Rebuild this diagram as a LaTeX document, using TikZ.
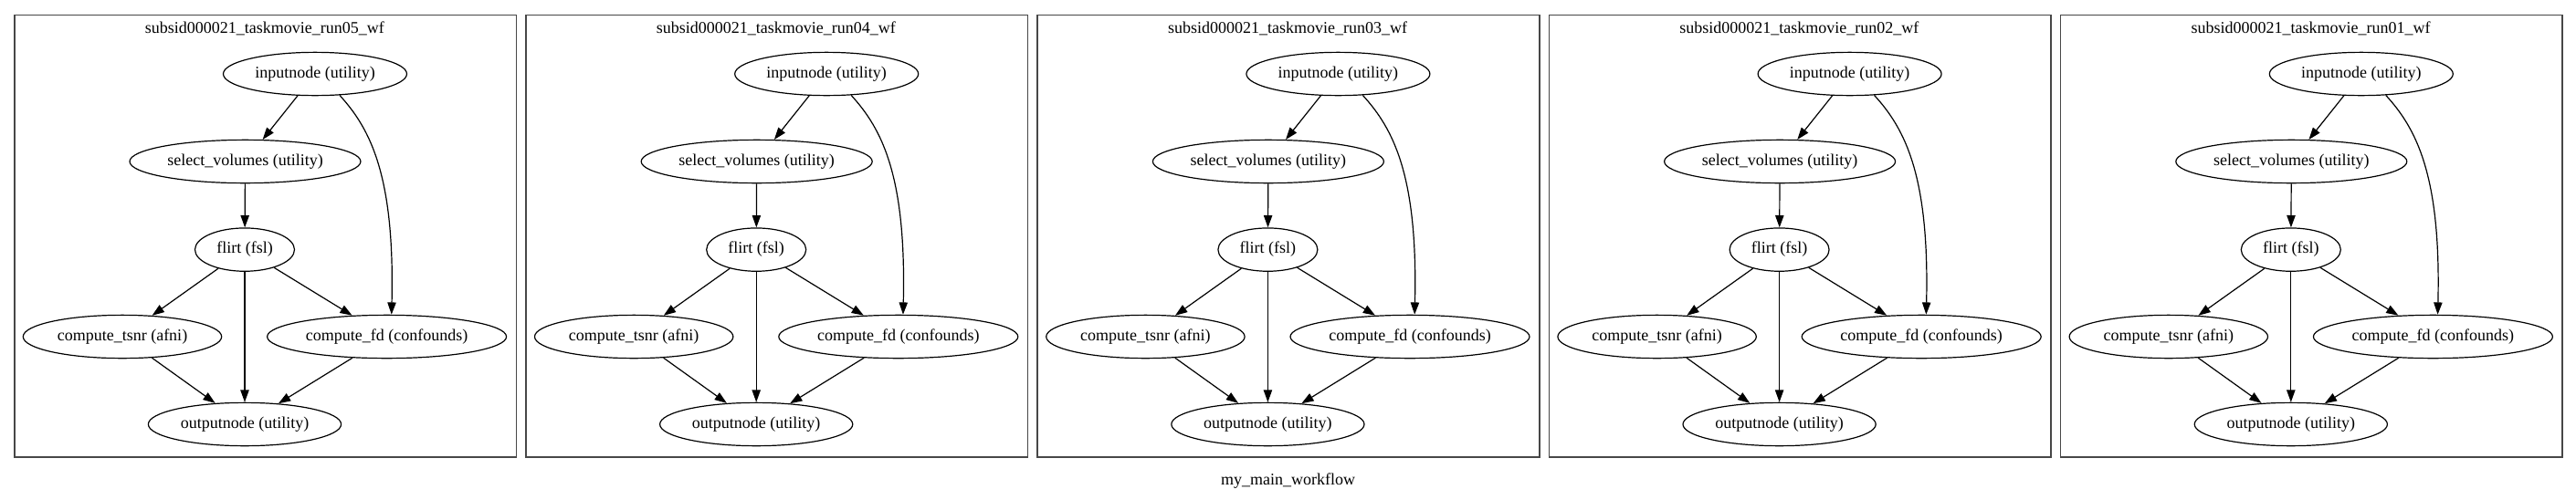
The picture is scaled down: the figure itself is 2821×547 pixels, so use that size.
\documentclass[tikz,border=0pt]{standalone}
\usepackage{fontspec}
\setmainfont{Liberation Serif}
\usetikzlibrary{shapes.geometric,arrows.meta}
\tikzset{
  gnode/.style={draw, ellipse, line width=0.9pt, inner sep=0pt,
    minimum width=#1*1.5pt, minimum height=35.5pt,
    font=\fontsize{13.5}{16}\selectfont, text height=0.8em, text depth=0.2em},
  edge/.style={line width=0.9pt, -{Triangle[length=10pt,width=7pt]}},
  cluster/.style={draw=black!72, line width=1.2pt, inner sep=0pt,
    minimum width=549.5*0.75pt, minimum height=484.3*0.75pt, anchor=north west},
  clabel/.style={anchor=base, font=\fontsize{13.5}{16}\selectfont, inner sep=0pt},
}
\begin{document}
\begin{tikzpicture}[x=0.75pt,y=-0.75pt]
\useasboundingbox (0,0) rectangle (2821,547);
\foreach \i/\r in {0/05,1/04,2/03,3/02,4/01}{
  \pgfmathsetmacro{\L}{15+560.2*\i}
  \node[cluster] (c\i) at (\L,15.7) {};
  \node[clabel] (t\i) at ({\L+274.75},36.3) {subsid000021\_taskmovie\_run\r\_wf};
  \node[gnode=100.5] (in\i)  at ({\L+330},81)    {inputnode (utility)};
  \node[gnode=126.5] (sv\i)  at ({\L+253.5},177) {select\_volumes (utility)};
  \node[gnode=54.5]  (fl\i)  at ({\L+253},273.6) {flirt (fsl)};
  \node[gnode=108.7] (ts\i)  at ({\L+119},369)   {compute\_tsnr (afni)};
  \node[gnode=131]   (fd\i)  at ({\L+408.6},369) {compute\_fd (confounds)};
  \node[gnode=105.6] (out\i) at ({\L+253},465)   {outputnode (utility)};
  \draw[edge] (in\i) -- (sv\i);
  \draw[edge] (in\i.-41) .. controls +(34.3,37.3) and +(3.6,-150.7) .. (fd\i.78);
  \draw[edge] (sv\i) -- (fl\i);
  \draw[edge] (fl\i) -- (ts\i);
  \draw[edge] (fl\i) -- (out\i);
  \draw[edge] (fl\i) -- (fd\i);
  \draw[edge] (ts\i) -- (out\i);
  \draw[edge] (fd\i) -- (out\i);
}
\node[clabel] (glabel) at (1410.5,531.3) {my\_main\_workflow};
\end{tikzpicture}
\end{document}
